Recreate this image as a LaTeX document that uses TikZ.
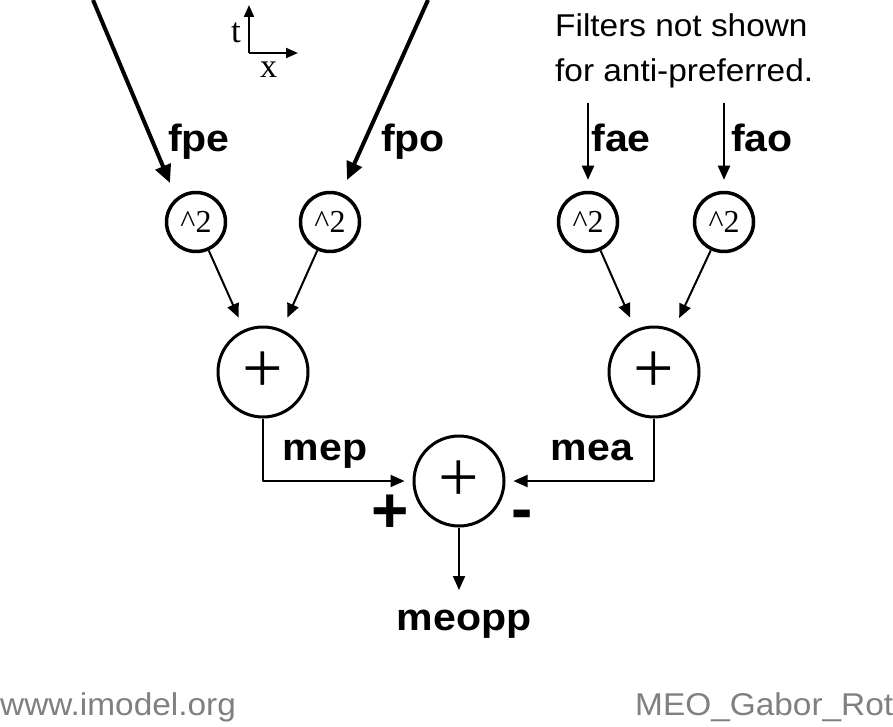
\documentclass[tikz,border=0pt]{standalone}
\usepackage{fontspec}
\setmainfont{Liberation Sans}[FakeStretch=1.06]
\newfontfamily\serif{Liberation Serif}
\newfontfamily\labfont{Liberation Sans Bold}[FakeStretch=1.08]
\newfontfamily\heavy{Liberation Sans Bold}
\usetikzlibrary{arrows.meta}
\begin{document}
\begin{tikzpicture}[x=1pt, y=-1pt, line join=round, >={Triangle[length=14pt,width=12pt]}]
	\def\lab{\labfont\fontsize{38}{38}\selectfont}
	\def\txt{\fontsize{31.5}{31.5}\selectfont}
	\tikzset{sq/.style={draw=black,circle,line width=3.5pt,minimum size=59pt,inner sep=0pt,font=\serif\fontsize{32}{32}\selectfont},
		sum/.style={draw=black,circle,line width=3pt,minimum size=90pt,inner sep=0pt,font=\serif\fontsize{72}{72}\selectfont},
		lab/.style={anchor=base,inner sep=0pt,font=\lab},
		sign/.style={inner sep=0pt,font=\heavy\fontsize{64}{64}\selectfont},
		thin/.style={line width=2pt,->},
		thick/.style={line width=4pt,-{Triangle[length=18pt,width=16pt]}}}
	\useasboundingbox (0,0) rectangle (893,727);
	% squaring and summing units
	\path(196,222)node[sq](sq1){\raisebox{-5pt}{\textasciicircum2}}(330,222)node[sq](sq2){\raisebox{-5pt}{\textasciicircum2}}
		(588,222)node[sq](sq3){\raisebox{-5pt}{\textasciicircum2}}(724,222)node[sq](sq4){\raisebox{-5pt}{\textasciicircum2}};
	\path(263,372)node[sum](sumL){+}(654,372)node[sum](sumR){+}(459,481)node[sum](sumM){+};
	% inputs
	\coordinate(pe0) at (93,0); \coordinate(pe1) at (170,183);
	\coordinate(po0) at (428,0); \coordinate(po1) at (347,180);
	\coordinate(ae0) at (588,103); \coordinate(ao0) at (724,103);
	\coordinate(out) at (459,590);
	\draw[thick](pe0)--(pe1);
	\draw[thick](po0)--(po1);
	\draw[thin,shorten >=11pt](ae0)--(sq3.north);
	\draw[thin,shorten >=11pt](ao0)--(sq4.north);
	\foreach \x/\y in {sq1/sumL,sq2/sumL,sq3/sumR,sq4/sumR}
	\draw[thin,shorten >=13pt](\x)--(\y);
	\draw[thin,shorten >=8pt](sumL.south)|-(sumM.west);
	\draw[thin,shorten >=8pt](sumR.south)|-(sumM.east);
	\draw[thin](sumM.south)--(out);
	% space-time axes
	\coordinate(o) at (249,53); \coordinate(tt) at (249,5); \coordinate(tx) at (298,53);
	\draw[line width=2pt,-{Triangle[length=12pt,width=10pt]}](o)--(tt);
	\draw[line width=2pt,-{Triangle[length=12pt,width=10pt]}](o)--(tx);
	\path(236,43)node[anchor=base,inner sep=0pt,font=\serif\fontsize{35}{35}\selectfont](tlab){t}
		(268.5,78)node[anchor=base,inner sep=0pt,font=\serif\fontsize{34}{34}\selectfont](xlab){x};
	% labels
	\path(199,152)node[lab](fpe){fpe}(413,152)node[lab](fpo){fpo}
		(621,152)node[lab](fae){fae}(762,152)node[lab](fao){fao}
		(325,460)node[lab](mep){mep}(592,460)node[lab](mea){mea}
		(464,630)node[lab](meopp){meopp};
	\path(390,514)node[sign](pos){+}
		(522.5,520)node[sign](neg){-};
	\path(555,37)node[anchor=base west,inner sep=0pt,font=\txt](note1){Filters not shown}
		(555,82)node[anchor=base west,inner sep=0pt,font=\txt](note2){for anti-preferred.};
	\path(0,715)node[anchor=base west,inner sep=0pt,font=\txt,text=black!50](web){www.imodel.org}
		(635,715)node[anchor=base west,inner sep=0pt,font=\txt,text=black!50](name){MEO\_Gabor\_Rot};
\end{tikzpicture}
\end{document}
